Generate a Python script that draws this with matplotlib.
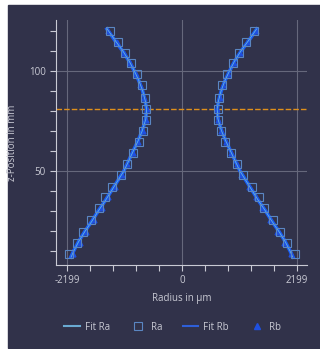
import matplotlib.pyplot as plt
from matplotlib.patches import Rectangle

# Messpunkte (z in mm, Radius in µm)
z_pts = [120.0, 114.6, 109.2, 103.9, 98.4, 92.9, 86.7, 81.0, 75.5, 70.2, 64.7,
         58.9, 53.4, 48.0, 42.2, 36.9, 31.4, 25.5, 19.7, 14.2, 8.5]
ra = [1377, 1218, 1090, 975, 866, 771, 707, 688, 688, 740, 816,
      943, 1046, 1172, 1344, 1472, 1581, 1746, 1887, 2013, 2161]
rb = [1410, 1250, 1110, 990, 880, 795, 720, 676, 690, 750, 840,
      945, 1050, 1140, 1280, 1410, 1535, 1690, 1830, 1960, 2085]

# Fitkurven
z_fit = [121, 115, 110, 105, 100, 95, 90, 85, 81, 76, 70, 65, 60, 55, 50,
         45, 40, 35, 30, 25, 20, 15, 10, 7]
fit_ra = [1430, 1270, 1130, 1010, 910, 820, 750, 700, 675, 690, 760, 840, 930,
          1020, 1110, 1230, 1350, 1470, 1600, 1720, 1850, 1970, 2070, 2120]
fit_rb = [1435, 1275, 1135, 1012, 912, 822, 752, 702, 677, 692, 762, 842, 932,
          1022, 1112, 1232, 1352, 1472, 1602, 1722, 1852, 1972, 2072, 2125]

z_line = 81.2
x_major = [-2199, 0, 2199]
x_minor = [-1759.2, -1319.4, -879.6, -439.8, 439.8, 879.6, 1319.4, 1759.2]
y_major = [50, 100]
y_minor = [10, 20, 30, 40, 60, 70, 80, 90, 110, 120]

bg = '#31324a'
fg = '#c9cad4'
grid_c = '#66687c'

plt.rcParams['font.family'] = ['Open Sans', 'DejaVu Sans']
plt.rcParams['axes.unicode_minus'] = False

fig = plt.figure(figsize=(3.2, 3.49), dpi=100, facecolor='white')
fig.patches.append(Rectangle((8 / 320, 1 / 349), 1, 1 - 6 / 349,
                             transform=fig.transFigure, color=bg, zorder=-5))

ax = fig.add_axes([56 / 320, 1 - 265 / 349, 251 / 320, 245 / 349])
ax.set_facecolor(bg)
ax.patch.set_alpha(0)

for sgn in (-1, 1):
    ax.plot([sgn * v for v in fit_rb], z_fit, color='#1a5cf5', lw=2.6, zorder=3)
    ax.plot([sgn * v for v in fit_ra], z_fit, color='#62b4e2', lw=0.6, zorder=4)
    ax.plot([sgn * v for v in rb], z_pts, ls='none', marker='^', ms=3.5,
            color='#1f50e0', zorder=3)
    ax.plot([sgn * v for v in ra], z_pts, ls='none', marker='s', ms=6,
            mfc='none', mec='#5a86c2', mew=0.8, zorder=5)

ax.axhline(z_line, color='#e0901a', lw=1, ls=(0, (4, 1.5)), zorder=2)

ax.set_xlim(-2410, 2395)
ax.set_ylim(3, 125.5)
ax.set_xticks(x_major)
ax.set_xticks(x_minor, minor=True)
ax.set_yticks(y_major)
ax.set_yticks(y_minor, minor=True)
ax.grid(True, which='major', color=grid_c, lw=0.8)
ax.tick_params(which='both', colors=fg, labelsize=7, length=4, width=0.8)
ax.tick_params(axis='x', pad=3)

for s in ('top', 'right'):
    ax.spines[s].set_visible(False)
for s in ('left', 'bottom'):
    ax.spines[s].set_color(fg)
    ax.spines[s].set_linewidth(0.8)

ax.set_xlabel('Radius in µm', color=fg, fontsize=7, labelpad=5)
ax.set_ylabel('z-Position in mm', color=fg, fontsize=7, labelpad=8)

# Legende
h1, = ax.plot([], [], color='#6aaad2', lw=1.5)
h2, = ax.plot([], [], ls='none', marker='s', ms=6, mfc='none', mec='#5a86c2', mew=0.8)
h3, = ax.plot([], [], color='#2e5fd8', lw=1.5)
h4, = ax.plot([], [], ls='none', marker='^', ms=4, color='#1f50e0')
fig.legend([h1, h2, h3, h4], ['Fit Ra', 'Ra', 'Fit Rb', 'Rb'], ncol=4,
           loc='center', bbox_to_anchor=(0.54, 1 - 327 / 349), frameon=False,
           fontsize=7, labelcolor=fg, columnspacing=2.1, handlelength=1.6,
           handletextpad=0.5)

fig.savefig('out.png', dpi=100, facecolor='white')
